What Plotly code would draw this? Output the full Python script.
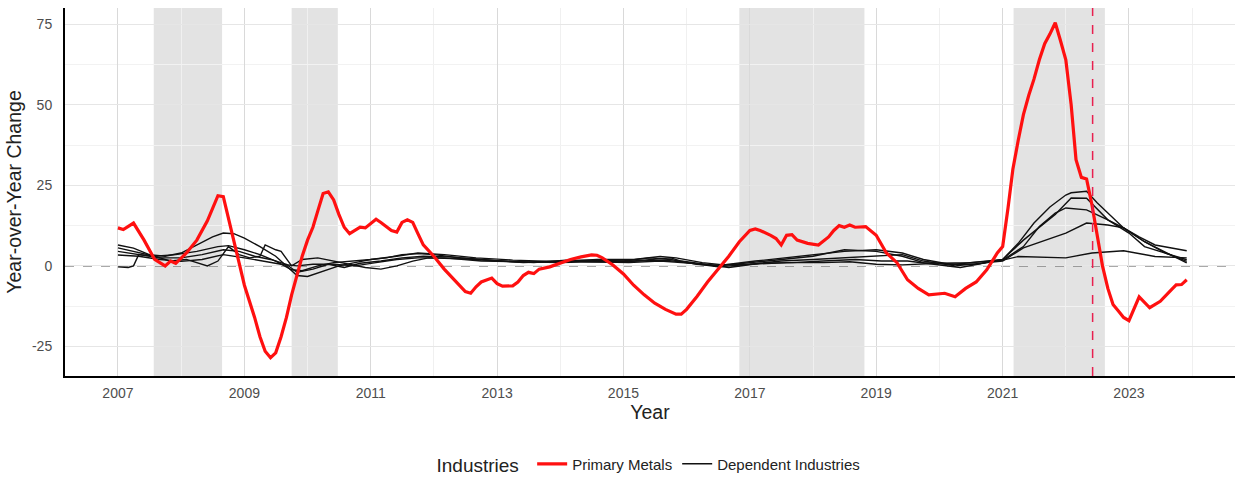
import plotly.graph_objects as go

# Primary metals: year-over-year change (%)
metals_dates = [
    "2007-01", "2007-02", "2007-04", "2007-06", "2007-08", "2007-10", "2007-11", "2007-12",
    "2008-02", "2008-04", "2008-06", "2008-08", "2008-09", "2008-10", "2008-11", "2008-12",
    "2009-01", "2009-02", "2009-03", "2009-04", "2009-05", "2009-06", "2009-07", "2009-08",
    "2009-09", "2009-10", "2009-11", "2009-12", "2010-01", "2010-02", "2010-03", "2010-04",
    "2010-05", "2010-06", "2010-07", "2010-08", "2010-09", "2010-10", "2010-11", "2010-12",
    "2011-02", "2011-03", "2011-05", "2011-06", "2011-07", "2011-08", "2011-09", "2011-10",
    "2011-11", "2012-01", "2012-03", "2012-05", "2012-07", "2012-08", "2012-09", "2012-10",
    "2012-11", "2012-12", "2013-01", "2013-02", "2013-04", "2013-05", "2013-06", "2013-07",
    "2013-08", "2013-09", "2013-11", "2014-01", "2014-03", "2014-05", "2014-07", "2014-08",
    "2014-09", "2014-11", "2015-01", "2015-03", "2015-05", "2015-07", "2015-09", "2015-11",
    "2015-12", "2016-01", "2016-03", "2016-05", "2016-07", "2016-09", "2016-11", "2017-01",
    "2017-02", "2017-03", "2017-05", "2017-06", "2017-07", "2017-08", "2017-09", "2017-10",
    "2017-12", "2018-02", "2018-04", "2018-05", "2018-06", "2018-07", "2018-08", "2018-09",
    "2018-11", "2019-01", "2019-03", "2019-05", "2019-07", "2019-09", "2019-11", "2020-01",
    "2020-02", "2020-04", "2020-06", "2020-08", "2020-10", "2020-12", "2021-01", "2021-02",
    "2021-03", "2021-04", "2021-05", "2021-06", "2021-07", "2021-08", "2021-09", "2021-10",
    "2021-11", "2021-12", "2022-01", "2022-02", "2022-03", "2022-04", "2022-05", "2022-06",
    "2022-07", "2022-08", "2022-09", "2022-10", "2022-11", "2022-12", "2023-01", "2023-03",
    "2023-05", "2023-07", "2023-09", "2023-10", "2023-11", "2023-12",
]
metals_values = [
    11.8, 11.3, 13.3, 8.0, 2.0, 0.0, 1.5, 0.8,
    4.0, 8.0, 14.0, 21.8, 21.5, 15.0, 8.0, 1.0,
    -6.0, -11.0, -16.0, -22.0, -26.5, -28.5, -27.0, -22.0,
    -16.0, -9.0, -3.0, 3.0, 8.0, 12.0, 17.0, 22.5,
    23.0, 20.5, 16.0, 12.0, 10.0, 11.0, 12.0, 11.8,
    14.5, 13.5, 11.0, 10.5, 13.5, 14.3, 13.5, 10.0,
    6.5, 3.0, -1.0, -4.5, -8.0, -8.5, -6.5, -5.0,
    -4.5, -3.8, -5.5, -6.3, -6.2, -5.0, -3.0, -2.0,
    -2.4, -1.0, -0.3, 0.8, 2.0, 2.8, 3.4, 3.3,
    2.5, 0.3, -2.5, -6.0, -9.0, -11.6, -13.5, -15.0,
    -15.0, -13.5, -9.5, -5.0, -1.0, 3.0, 7.5, 11.0,
    11.5, 11.0, 9.5, 8.5, 6.5, 9.5, 9.7, 8.0,
    7.0, 6.5, 9.0, 11.0, 12.5, 12.0, 12.7, 12.0,
    12.2, 9.5, 4.0, 1.0, -4.3, -7.0, -9.0, -8.7,
    -8.5, -9.6, -7.0, -5.0, -1.2, 4.0, 6.0, 18.0,
    30.0, 39.0, 47.0, 53.0, 58.0, 64.0, 69.0, 72.0,
    75.5, 70.0, 64.0, 50.0, 33.0, 27.5, 27.0, 19.0,
    9.0, 0.0, -7.0, -12.0, -14.0, -16.0, -17.0, -9.6,
    -13.0, -11.0, -7.5, -5.9, -5.8, -4.3,
]

# Dependent industries: year-over-year change (%)
dep1_dates = [
    "2007-01", "2007-04", "2007-07", "2007-10", "2008-01", "2008-04", "2008-07", "2008-09",
    "2008-11", "2009-01", "2009-04", "2009-07", "2009-09", "2009-11", "2010-01", "2010-04",
    "2010-07", "2010-10", "2011-01", "2011-04", "2011-07", "2011-10", "2012-01", "2012-06",
    "2013-01", "2013-07", "2014-01", "2014-07", "2015-01", "2015-06", "2015-10", "2016-03",
    "2016-07", "2017-01", "2017-07", "2018-01", "2018-07", "2019-01", "2019-06", "2019-10",
    "2020-04", "2020-10", "2021-01", "2021-04", "2021-07", "2021-10", "2022-01", "2022-02",
    "2022-05", "2022-07", "2022-09", "2022-12", "2023-04", "2023-08", "2023-12",
]
dep1_values = [
    6.5, 5.5, 3.5, 3.0, 4.0, 6.5, 9.0, 10.2,
    10.0, 8.6, 6.0, 3.0, 0.0, -3.0, -3.3, -1.7,
    0.0, 1.0, 2.0, 2.5, 3.5, 3.8, 3.5, 2.5,
    1.5, 1.2, 1.5, 1.8, 1.5, 2.5, 2.0, 0.5,
    0.0, 1.0, 2.0, 3.0, 5.0, 4.5, 3.0, 1.0,
    0.5, 1.5, 2.0, 7.0, 13.3, 18.3, 22.0, 22.7,
    23.2, 19.6, 16.5, 11.8, 7.5, 4.0, 1.4,
]

dep2_dates = [
    "2007-01", "2007-04", "2007-08", "2007-12", "2008-04", "2008-08", "2008-10", "2009-01",
    "2009-04", "2009-07", "2009-10", "2009-12", "2010-03", "2010-06", "2010-10", "2011-01",
    "2011-06", "2011-10", "2012-03", "2012-09", "2013-04", "2014-01", "2014-08", "2015-03",
    "2015-08", "2015-11", "2016-04", "2016-08", "2017-02", "2017-08", "2018-02", "2018-07",
    "2019-01", "2019-06", "2019-10", "2020-03", "2020-08", "2021-01", "2021-05", "2021-08",
    "2021-11", "2022-02", "2022-05", "2022-09", "2022-12", "2023-03", "2023-06", "2023-12",
]
dep2_values = [
    5.6, 4.5, 3.0, 3.5, 4.5, 6.0, 6.3, 5.0,
    3.5, 1.5, -1.2, -1.5, 0.0, 1.0, 1.5, 2.0,
    3.0, 4.0, 3.5, 2.5, 1.8, 1.3, 2.0, 2.0,
    2.9, 2.5, 1.0, 0.3, 1.5, 2.5, 3.5, 4.5,
    5.0, 4.0, 2.0, 0.5, 0.5, 2.0, 8.0, 12.0,
    16.0, 21.1, 21.0, 14.3, 11.8, 9.0, 6.5, 4.7,
]

dep3_dates = [
    "2007-01", "2007-05", "2007-09", "2008-01", "2008-05", "2008-09", "2008-12", "2009-03",
    "2009-06", "2009-09", "2009-11", "2010-02", "2010-05", "2010-08", "2010-11", "2011-03",
    "2011-07", "2011-11", "2012-04", "2012-10", "2013-06", "2014-03", "2014-10", "2015-04",
    "2015-09", "2016-02", "2016-07", "2017-01", "2017-07", "2018-01", "2018-07", "2019-01",
    "2019-06", "2019-10", "2020-04", "2020-09", "2021-01", "2021-05", "2021-08", "2021-11",
    "2022-01", "2022-05", "2022-09", "2023-01", "2023-04", "2023-12",
]
dep3_values = [
    4.5, 3.5, 2.5, 2.5, 3.5, 5.0, 4.5, 3.0,
    2.0, 0.5, -2.0, -1.0, 0.5, -0.5, 0.8, 1.5,
    2.5, 3.0, 2.8, 2.0, 1.0, 1.5, 1.2, 1.5,
    1.8, 0.8, -0.3, 0.5, 1.5, 2.0, 2.6, 3.0,
    3.5, 1.5, 0.0, 0.8, 1.8, 6.0, 12.2, 16.4,
    18.0, 17.4, 14.3, 10.2, 6.0, 1.9,
]

dep4_dates = [
    "2007-01", "2007-03", "2007-04", "2007-05", "2007-08", "2007-11", "2008-02", "2008-04",
    "2008-06", "2008-08", "2008-10", "2008-12", "2009-02", "2009-04", "2009-05", "2009-07",
    "2009-08", "2009-10", "2009-12", "2010-03", "2010-06", "2010-09", "2010-12", "2011-03",
    "2011-06", "2011-09", "2011-12", "2012-06", "2013-01", "2013-08", "2014-02", "2014-09",
    "2015-03", "2015-07", "2015-10", "2015-12", "2016-05", "2016-09", "2017-03", "2017-09",
    "2018-03", "2018-09", "2019-02", "2019-07", "2019-12", "2020-05", "2020-10", "2021-01",
    "2021-05", "2021-10", "2022-01", "2022-05", "2022-09", "2022-12", "2023-04", "2023-12",
]
dep4_values = [
    -0.3, -0.5, 0.0, 3.5, 3.0, 1.5, 2.0, 1.0,
    0.0, 1.5, 6.0, 3.5, 2.5, 3.0, 6.5, 5.0,
    4.5, 0.0, 2.0, 2.5, 1.5, 0.5, -0.5, -1.0,
    0.0, 1.5, 2.5, 2.2, 1.5, 1.0, 1.8, 1.5,
    1.5, 2.0, 2.5, 1.5, 0.5, -0.5, 0.8, 1.0,
    1.5, 2.0, 1.5, 1.5, 0.5, -0.5, 1.0, 1.5,
    5.6, 8.5, 10.2, 13.3, 12.7, 11.8, 7.5, 0.9,
]

dep5_dates = [
    "2007-01", "2007-05", "2007-09", "2008-01", "2008-05", "2008-09", "2009-01", "2009-05",
    "2009-08", "2009-11", "2010-02", "2010-06", "2010-10", "2011-02", "2011-06", "2011-10",
    "2012-03", "2012-10", "2013-05", "2014-01", "2014-07", "2015-02", "2015-08", "2016-01",
    "2016-06", "2017-01", "2017-08", "2018-03", "2018-08", "2019-01", "2019-06", "2020-01",
    "2020-07", "2021-01", "2021-04", "2022-01", "2022-06", "2022-12", "2023-06", "2023-12",
]
dep5_values = [
    3.4, 3.0, 2.0, 1.4, 2.0, 3.5, 2.5, 1.5,
    0.5, 0.0, 0.5, 0.5, 0.0, 1.0, 2.0, 2.5,
    2.5, 1.5, 1.2, 1.0, 1.3, 1.0, 1.5, 1.0,
    0.3, 0.5, 1.0, 1.0, 1.3, 0.5, 0.3, 0.8,
    1.0, 1.8, 2.9, 2.5, 4.0, 4.7, 2.9, 2.5,
]

# Shaded periods (start, end)
shade_starts = ["2007-07-27", "2009-10-01", "2016-11-01", "2021-03-05"]
shade_ends = ["2008-08-25", "2010-06-25", "2018-10-25", "2022-08-15"]
marker_date = "2022-06-05"

y_ticks = [-25, 0, 25, 50, 75]
x_tick_years = [2007, 2009, 2011, 2013, 2015, 2017, 2019, 2021, 2023]

fig = go.Figure()

dependents = [
    (dep1_dates, dep1_values), (dep2_dates, dep2_values), (dep3_dates, dep3_values),
    (dep4_dates, dep4_values), (dep5_dates, dep5_values),
]
for i, (d, v) in enumerate(dependents):
    fig.add_trace(go.Scatter(
        x=d, y=v, mode="lines", name="Dependent Industries",
        line=dict(color="#111111", width=1.4),
        legendgroup="dep", showlegend=(i == 0), legendrank=2,
    ))

fig.add_trace(go.Scatter(
    x=metals_dates, y=metals_values, mode="lines", name="Primary Metals",
    line=dict(color="#ff1010", width=3.2), legendrank=1,
))

for s, e in zip(shade_starts, shade_ends):
    fig.add_shape(type="rect", xref="x", yref="paper", x0=s, x1=e, y0=0, y1=1,
                  fillcolor="rgba(150,150,150,0.27)", line=dict(width=0), layer="below")

fig.add_shape(type="line", xref="paper", yref="y", x0=0, x1=1, y0=0, y1=0,
              line=dict(color="#555555", width=1.3, dash="dash"), layer="below")
fig.add_shape(type="line", xref="x", yref="paper", x0=marker_date, x1=marker_date, y0=0, y1=1,
              line=dict(color="#e8204f", width=1.5, dash="dash"))

font_family = "Liberation Sans, Arial, sans-serif"

fig.update_layout(
    width=1239, height=492,
    margin=dict(l=65, r=4, t=8, b=116),
    paper_bgcolor="white", plot_bgcolor="white",
    font=dict(family=font_family, color="#222222"),
    showlegend=True,
    legend=dict(
        orientation="h", x=0.5, xanchor="center", y=-0.242, yanchor="middle",
        title=dict(text="Industries ", font=dict(size=19, color="#222222"), side="left"),
        font=dict(size=15, color="#222222"),
        traceorder="normal", itemwidth=30,
    ),
)

fig.update_xaxes(
    type="date",
    range=["2006-03-01", "2024-09-05"],
    tickvals=[f"{y}-01-01" for y in x_tick_years],
    ticktext=[str(y) for y in x_tick_years],
    tickfont=dict(size=14, color="#4d4d4d"),
    ticklabelstandoff=3,
    showgrid=True, gridcolor="#d9d9d9", gridwidth=1,
    minor=dict(tickvals=[f"{y + 1}-01-01" for y in x_tick_years], showgrid=True,
               gridcolor="#f0f0f0", gridwidth=1),
    showline=True, linecolor="black", linewidth=2,
    zeroline=False, ticks="",
    title=dict(text="Year", font=dict(size=19.5, color="#222222"), standoff=2),
)
fig.update_yaxes(
    range=[-34.2, 80.1],
    tickvals=y_ticks,
    ticktext=[str(v) for v in y_ticks],
    tickfont=dict(size=14, color="#4d4d4d"),
    ticklabelstandoff=8,
    showgrid=True, gridcolor="#e6e6e6", gridwidth=1,
    minor=dict(tickvals=[-12.5, 12.5, 37.5, 62.5], showgrid=True,
               gridcolor="#f2f2f2", gridwidth=1),
    showline=True, linecolor="black", linewidth=2,
    zeroline=False, ticks="",
    title=dict(text="Year-over-Year Change", font=dict(size=19.5, color="#222222"), standoff=5),
)

fig.write_html("out.html")
